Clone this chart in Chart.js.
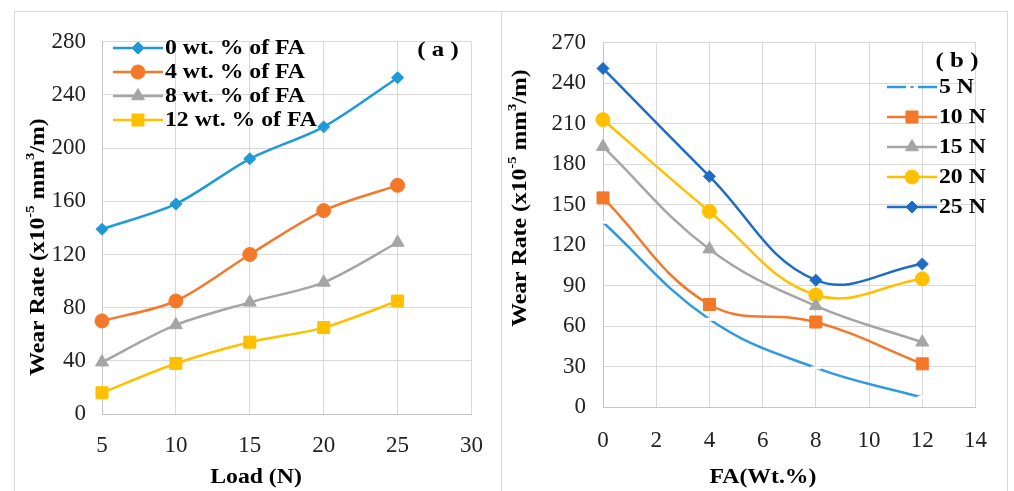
<!DOCTYPE html>
<html>
<head>
<meta charset="utf-8">
<script src="https://cdn.jsdelivr.net/npm/chart.js@4.4.1/dist/chart.umd.min.js"></script>
<style>
  body { margin: 0; background: #fff; width: 1014px; height: 491px; overflow: hidden; position: relative; }
  .panel { position: absolute; top: 11px; height: 490px; border: 1px solid #d9d9d9; border-bottom: none; }
  #panel-a { left: 14px; width: 486px; }
  #panel-b { left: 501px; width: 506px; border-left: none; }
  canvas { position: absolute; top: 0; left: 0; }
</style>
</head>
<body>
<div class="panel" id="panel-a"><canvas id="chart-a" width="486" height="479"></canvas></div>
<div class="panel" id="panel-b"><canvas id="chart-b" width="506" height="479"></canvas></div>
<script>
// (a) wear rate vs load
const loadN = [5, 10, 15, 20, 25];
const faSeriesLabels = ['0 wt. % of FA', '4 wt. % of FA', '8 wt. % of FA', '12 wt. % of FA'];
const fa0 = [139, 158, 192, 216, 253];
const fa4 = [70, 85, 120, 153, 172];
const fa8 = [39, 67, 84, 99, 129];
const fa12 = [16, 38, 54, 65, 85];
const xTicksA = [5, 10, 15, 20, 25, 30];
const yTicksA = [0, 40, 80, 120, 160, 200, 240, 280];

// (b) wear rate vs FA content
const faPct = [0, 4, 8, 12];
const loadSeriesLabels = ['5 N', '10 N', '15 N', '20 N', '25 N'];
const n5 = [137, 65, 29, 7];
const n10 = [155, 76, 63, 32];
const n15 = [193, 117, 75, 48];
const n20 = [213, 145, 83, 95];
const n25 = [251, 171, 94, 106];
const xTicksB = [0, 2, 4, 6, 8, 10, 12, 14];
const yTicksB = [0, 30, 60, 90, 120, 150, 180, 210, 240, 270];

const SERIF = '"Liberation Serif", "Times New Roman", serif';
const GRID = '#d9d9d9';
const STRETCH = 1.13;

const toPoints = (xs, ys) => xs.map((x, i) => ({ x: x, y: ys[i] }));

const makeSet = (label, xs, ys, color, style, radius, extra) => Object.assign({
    label: label,
    data: toPoints(xs, ys),
    borderColor: color,
    backgroundColor: color,
    pointBackgroundColor: color,
    pointBorderColor: color,
    pointStyle: style,
    pointRadius: radius,
    pointBorderWidth: 1,
    borderWidth: 2.5,
    clip: false
}, extra || {});

const stretchText = (ctx, text, x, y, sx) => {
    ctx.save();
    ctx.translate(x, y);
    ctx.scale(sx, 1);
    ctx.fillText(text, 0, 0);
    ctx.restore();
};

// legend, panel tag and axis titles, drawn at fixed spots like the original figure
const panelDeco = {
    id: 'panelDeco',
    afterDraw(chart, args, opts) {
        const ctx = chart.ctx;
        ctx.save();
        ctx.fillStyle = '#000';
        ctx.textBaseline = 'middle';

        // legend
        const lg = opts.legend;
        chart.data.datasets.forEach((ds, i) => {
            const y = lg.y + i * lg.dy;
            const mid = (lg.x0 + lg.x1) / 2;
            ctx.strokeStyle = ds.borderColor;
            ctx.lineWidth = ds.borderWidth;
            ctx.beginPath();
            if (ds.pointStyle === 'line') {
                // plain line with a small break at the marker
                ctx.moveTo(lg.x0, y);
                ctx.lineTo(mid - 6, y);
                ctx.moveTo(mid + 6, y);
                ctx.lineTo(lg.x1, y);
                ctx.stroke();
                ctx.fillStyle = ds.borderColor;
                ctx.fillRect(mid - 1.5, y - 1, 3, 2);
            } else {
                ctx.moveTo(lg.x0, y);
                ctx.lineTo(lg.x1, y);
                ctx.stroke();
                ctx.fillStyle = ds.pointBackgroundColor;
                ctx.strokeStyle = ds.pointBorderColor;
                ctx.lineWidth = ds.pointBorderWidth;
                Chart.helpers.drawPoint(ctx, { pointStyle: ds.pointStyle, radius: ds.pointRadius, rotation: 0, borderWidth: ds.pointBorderWidth }, mid, y);
            }
            ctx.fillStyle = '#000';
            ctx.font = 'bold 21px ' + SERIF;
            ctx.textAlign = 'left';
            stretchText(ctx, ds.label, lg.x1 + 2, y + 1, STRETCH);
        });

        // panel tag
        ctx.font = 'bold 22px ' + SERIF;
        ctx.textAlign = 'center';
        stretchText(ctx, opts.tag.text, opts.tag.x, opts.tag.y, STRETCH);

        // x title
        ctx.font = 'bold 21px ' + SERIF;
        stretchText(ctx, opts.xTitle.text, opts.xTitle.x, opts.xTitle.y, STRETCH);

        // y title with superscripts
        const parts = [
            ['Wear Rate (x10', false], ['-5', true], [' mm', false], ['3', true], ['/m)', false]
        ];
        const big = 'bold 21px ' + SERIF;
        const small = 'bold 13px ' + SERIF;
        let total = 0;
        parts.forEach(p => { ctx.font = p[1] ? small : big; total += ctx.measureText(p[0]).width; });
        ctx.translate(opts.yTitle.x, opts.yTitle.y);
        ctx.rotate(-Math.PI / 2);
        ctx.scale(STRETCH, 1);
        ctx.textAlign = 'left';
        let cx = -total / 2;
        parts.forEach(p => {
            ctx.font = p[1] ? small : big;
            ctx.fillText(p[0], cx, p[1] ? -7 : 1);
            cx += ctx.measureText(p[0]).width;
        });
        ctx.restore();
    }
};

const buildOptions = (xTicks, yTicks, dims, deco) => ({
    responsive: false,
    animation: false,
    layout: { padding: { top: dims.top, right: dims.right, left: 0, bottom: 0 } },
    scales: {
        x: {
            type: 'linear',
            min: xTicks[0],
            max: xTicks[xTicks.length - 1],
            afterFit: s => { s.height = dims.xHeight; },
            ticks: {
                stepSize: xTicks[1] - xTicks[0],
                color: '#222',
                padding: dims.xPad,
                font: { family: SERIF, size: 23 }
            },
            grid: { color: GRID, drawTicks: false },
            border: { color: '#c6c6c6' }
        },
        y: {
            min: yTicks[0],
            max: yTicks[yTicks.length - 1],
            afterFit: s => { s.width = dims.yWidth; },
            ticks: {
                stepSize: yTicks[1] - yTicks[0],
                color: '#222',
                padding: dims.yPad,
                font: { family: SERIF, size: 23 }
            },
            grid: { color: GRID, drawTicks: false },
            border: { color: '#c6c6c6' }
        }
    },
    plugins: {
        legend: { display: false },
        tooltip: { enabled: false },
        panelDeco: deco
    }
});

new Chart(document.getElementById('chart-a'), {
    type: 'line',
    data: {
        datasets: [
            makeSet(faSeriesLabels[0], loadN, fa0, '#1f9ad8', 'rectRot', 6),
            makeSet(faSeriesLabels[1], loadN, fa4, '#f4782a', 'circle', 7),
            makeSet(faSeriesLabels[2], loadN, fa8, '#a5a5a5', 'triangle', 7.5),
            makeSet(faSeriesLabels[3], loadN, fa12, '#ffc000', 'rect', 8.5)
        ]
    },
    options: Object.assign(buildOptions(xTicksA, yTicksA,
        { top: 15, right: 27, xHeight: 77, yWidth: 87, xPad: 18, yPad: 16 },
        {
            legend: { x0: 98, x1: 148, y: 36, dy: 24 },
            tag: { text: '( a )', x: 423, y: 38 },
            xTitle: { text: 'Load (N)', x: 241, y: 466 },
            yTitle: { x: 23, y: 235 }
        }), { elements: { line: { tension: 0.3 } } }),
    plugins: [panelDeco]
});

new Chart(document.getElementById('chart-b'), {
    type: 'line',
    data: {
        datasets: [
            makeSet(loadSeriesLabels[0], faPct, n5, '#2e9be0', 'line', 5,
                { pointBorderColor: '#fff', pointBackgroundColor: '#fff', pointBorderWidth: 3 }),
            makeSet(loadSeriesLabels[1], faPct, n10, '#f4782a', 'rect', 8.5),
            makeSet(loadSeriesLabels[2], faPct, n15, '#a5a5a5', 'triangle', 7.5),
            makeSet(loadSeriesLabels[3], faPct, n20, '#ffc000', 'circle', 7),
            makeSet(loadSeriesLabels[4], faPct, n25, '#1f6cc6', 'rectRot', 6)
        ]
    },
    options: Object.assign(buildOptions(xTicksB, yTicksB,
        { top: 15, right: 21, xHeight: 84, yWidth: 102, xPad: 20, yPad: 17 },
        {
            legend: { x0: 386, x1: 436, y: 75, dy: 30 },
            tag: { text: '( b )', x: 456, y: 49 },
            xTitle: { text: 'FA(Wt.%)', x: 262, y: 466 },
            yTitle: { x: 19, y: 186 }
        }), { elements: { line: { tension: 0.4 } } }),
    plugins: [panelDeco]
});
</script>
</body>
</html>
